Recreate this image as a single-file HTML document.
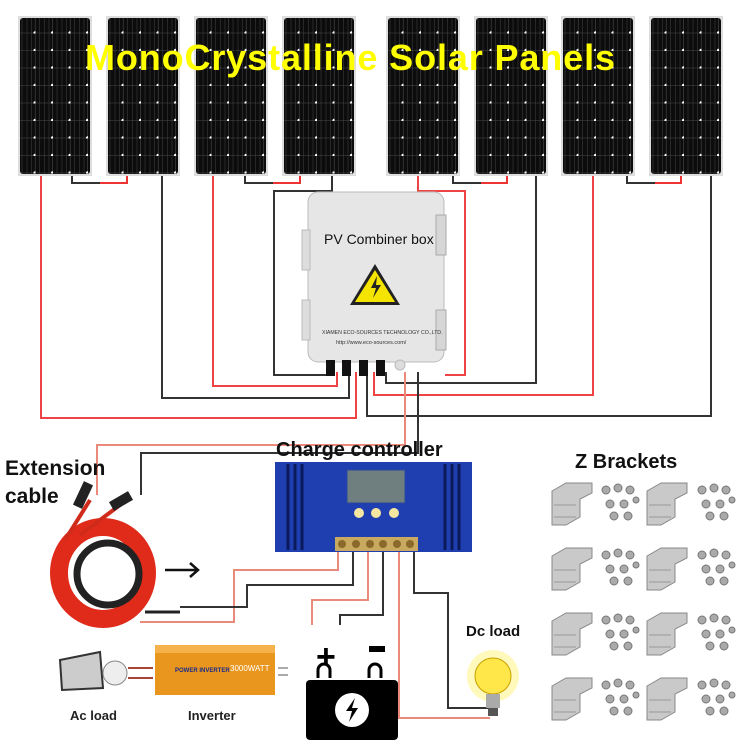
<!DOCTYPE html>
<html><head><style>
html,body{margin:0;padding:0;background:#fff;width:750px;height:750px;overflow:hidden}
svg{display:block}
text{font-family:"Liberation Sans",sans-serif}
</style></head><body>
<svg width="750" height="750" viewBox="0 0 750 750">
<defs>
<pattern id="cell" x="0" y="0" width="17.5" height="17.5" patternUnits="userSpaceOnUse">
<rect width="17.5" height="17.5" fill="#0c0c0c"/>
<line x1="4" y1="0" x2="4" y2="17.5" stroke="#3a3a3a" stroke-width="0.6"/>
<line x1="9" y1="0" x2="9" y2="17.5" stroke="#3a3a3a" stroke-width="0.6"/>
<line x1="13.5" y1="0" x2="13.5" y2="17.5" stroke="#3a3a3a" stroke-width="0.6"/>
<line x1="0" y1="17" x2="17.5" y2="17" stroke="#4a4a4a" stroke-width="0.6"/>
<line x1="17.2" y1="0" x2="17.2" y2="17.5" stroke="#4a4a4a" stroke-width="0.6"/>
<circle cx="17.2" cy="17" r="1.8" fill="#fff"/>
</pattern>
<g id="panel">
<rect x="0" y="0" width="74" height="160" fill="#ddd"/>
<rect x="2" y="2" width="70" height="156" rx="3" fill="url(#cell)"/>
</g>
<g id="brk">
<path d="M0,8 l14,-8 h26 v10 l-12,6 v18 l-14,8 h-14 z" fill="#c9c9c9" stroke="#888"/>
<path d="M2,22 h22 M2,34 h22" stroke="#999"/>
</g>
<g id="scr" fill="#aaa" stroke="#777">
<circle cx="8" cy="8" r="4"/><circle cx="20" cy="6" r="4"/><circle cx="32" cy="8" r="4"/>
<circle cx="12" cy="22" r="4"/><circle cx="26" cy="22" r="4"/><circle cx="38" cy="18" r="3"/>
<circle cx="16" cy="34" r="4"/><circle cx="30" cy="34" r="4"/>
</g>
</defs>

<use href="#panel" x="18" y="16"/><use href="#panel" x="106" y="16"/>
<use href="#panel" x="194" y="16"/><use href="#panel" x="282" y="16"/>
<use href="#panel" x="386" y="16"/><use href="#panel" x="474" y="16"/>
<use href="#panel" x="561" y="16"/><use href="#panel" x="649" y="16"/>

<text x="85" y="70" font-size="36" font-weight="bold" fill="#ffff00" textLength="530" lengthAdjust="spacing">MonoCrystalline  Solar  Panels</text>

<g fill="none" stroke-width="2">
<path d="M72,176 v7 h28" stroke="#333"/><path d="M100,183 h27 v-7" stroke="#e33"/>
<path d="M245,176 v7 h28" stroke="#333"/><path d="M273,183 h27 v-7" stroke="#e33"/>
<path d="M453,176 v7 h28" stroke="#333"/><path d="M481,183 h26 v-7" stroke="#e33"/>
<path d="M627,176 v7 h28" stroke="#333"/><path d="M655,183 h26 v-7" stroke="#e33"/>
</g>

<g fill="none" stroke-width="2">
<path d="M41,176 V418 H356 V372" stroke="#e44"/>
<path d="M162,176 V398 H349 V372" stroke="#333"/>
<path d="M213,176 V386 H337 V372" stroke="#e44"/>
<path d="M332,176 V191 H274 V375 H330" stroke="#333"/>
<path d="M418,176 V191 H465 V375 H445" stroke="#e44"/>
<path d="M536,176 V383 H386 V372" stroke="#333"/>
<path d="M593,176 V395 H374 V372" stroke="#e44"/>
<path d="M711,176 V416 H367 V372" stroke="#333"/>
<path d="M405,372 V445 H97 V495" stroke="#e98a7a"/>
<path d="M418,372 V453 H141 V495" stroke="#333"/>
</g>

<rect x="308" y="192" width="136" height="170" rx="10" fill="#e6e6e6" stroke="#bbb"/>
<rect x="302" y="230" width="8" height="40" fill="#ddd" stroke="#bbb"/>
<rect x="302" y="300" width="8" height="40" fill="#ddd" stroke="#bbb"/>
<rect x="436" y="215" width="10" height="40" fill="#d6d6d6" stroke="#aaa"/>
<rect x="436" y="310" width="10" height="40" fill="#d6d6d6" stroke="#aaa"/>
<text x="324" y="244" font-size="14" fill="#111">PV Combiner box</text>
<polygon points="375,264 350,305 400,305" fill="#222"/>
<polygon points="375,270 355,302 395,302" fill="#f5e400"/>
<path d="M377,276 l-6,12 h5 l-3,10 l8,-13 h-5 z" fill="#222"/>
<text x="322" y="334" font-size="5.2" fill="#333">XIAMEN ECO-SOURCES TECHNOLOGY CO.,LTD.</text>
<text x="336" y="344" font-size="5.5" fill="#333">http://www.eco-sources.com/</text>
<g fill="#111"><rect x="326" y="360" width="9" height="16"/><rect x="342" y="360" width="9" height="16"/><rect x="359" y="360" width="9" height="16"/><rect x="376" y="360" width="9" height="16"/></g>
<circle cx="400" cy="365" r="5" fill="#ddd" stroke="#bbb"/>

<text x="276" y="456" font-size="20" font-weight="bold" fill="#111">Charge controller</text>
<text x="5" y="475" font-size="21" font-weight="bold" fill="#111">Extension</text>
<text x="5" y="503" font-size="21" font-weight="bold" fill="#111">cable</text>
<text x="575" y="468" font-size="20" font-weight="bold" fill="#111">Z Brackets</text>

<rect x="275" y="462" width="197" height="90" fill="#1f3fb0"/>
<g stroke="#0a1a5a" stroke-width="3">
<path d="M288,464 v86 M295,464 v86 M302,464 v86 M445,464 v86 M452,464 v86 M459,464 v86"/>
</g>
<rect x="347" y="470" width="58" height="33" fill="#6f7f80" stroke="#2a4a9a"/>
<circle cx="359" cy="513" r="5" fill="#f5e6a0"/><circle cx="376" cy="513" r="5" fill="#f5e6a0"/><circle cx="394" cy="513" r="5" fill="#f5e6a0"/>
<rect x="335" y="537" width="83" height="14" fill="#c9a860"/>
<g fill="#8a6a2a"><circle cx="342" cy="544" r="4"/><circle cx="356" cy="544" r="4"/><circle cx="370" cy="544" r="4"/><circle cx="383" cy="544" r="4"/><circle cx="397" cy="544" r="4"/><circle cx="410" cy="544" r="4"/></g>

<g fill="none" stroke-width="2">
<path d="M338,552 V570 H234 V622 H140" stroke="#e98a7a"/>
<path d="M353,552 V585 H247 V607 H180" stroke="#333"/>
<path d="M368,552 V600 H312 V625" stroke="#e98a7a"/>
<path d="M383,552 V615 H340 V625" stroke="#333"/>
<path d="M399,552 V718 H490" stroke="#e98a7a"/>
<path d="M414,552 V593 H448 V708 H490" stroke="#333"/>
</g>

<ellipse cx="103" cy="573" rx="44" ry="46" fill="none" stroke="#e02a1a" stroke-width="18"/>
<ellipse cx="108" cy="574" rx="31" ry="31" fill="none" stroke="#222" stroke-width="7"/>
<path d="M65,540 L90,500 M80,535 L120,505" stroke="#d02a1a" stroke-width="4"/>
<rect x="78" y="482" width="10" height="26" fill="#222" transform="rotate(25 83 495)"/>
<rect x="116" y="490" width="10" height="22" fill="#222" transform="rotate(60 121 501)"/>
<path d="M145,612 H180" stroke="#222" stroke-width="3"/>
<path d="M165,570 h33 m-8,-7 l8,7 l-8,7" stroke="#111" stroke-width="2.5" fill="none"/>

<text x="316" y="668" font-size="34" font-weight="bold" fill="#000">+</text>
<rect x="369" y="646" width="16" height="6" fill="#000"/>
<path d="M318,678 v-8 a6,6 0 0 1 12,0 v8 M369,678 v-8 a6,6 0 0 1 12,0 v8" stroke="#000" stroke-width="3" fill="none"/>
<rect x="306" y="680" width="92" height="60" rx="4" fill="#000"/>
<circle cx="352" cy="710" r="17" fill="#fff"/>
<path d="M355,698 l-9,13 h6 l-3,11 l9,-14 h-6 z" fill="#000"/>

<text x="466" y="636" font-size="15" font-weight="bold" fill="#111">Dc load</text>
<circle cx="493" cy="676" r="26" fill="#fff6a0" opacity="0.7"/>
<circle cx="493" cy="676" r="18" fill="#ffe74a" stroke="#c9a000"/>
<rect x="486" y="694" width="14" height="14" fill="#aaa"/>
<rect x="488" y="708" width="10" height="8" fill="#555"/>

<path d="M60,660 L100,652 L103,688 L62,690 z" fill="#ccc" stroke="#333" stroke-width="2"/>
<circle cx="115" cy="673" r="12" fill="#eee" stroke="#888"/>
<path d="M128,668 H153 M128,678 H153" stroke="#aa4433" stroke-width="2"/>
<rect x="155" y="645" width="120" height="50" fill="#e8961e"/>
<rect x="155" y="645" width="120" height="8" fill="#f5b24a"/>
<text x="175" y="672" font-size="6" fill="#1a2a8a" font-weight="bold">POWER INVERTER</text>
<text x="230" y="671" font-size="8" fill="#fff">3000WATT</text>
<path d="M278,668 h10 M278,675 h10" stroke="#aaa" stroke-width="2"/>
<text x="70" y="720" font-size="13" font-weight="bold" fill="#222">Ac load</text>
<text x="188" y="720" font-size="13" font-weight="bold" fill="#222">Inverter</text>

<use href="#brk" x="552" y="483"/><use href="#scr" x="598" y="482"/>
<use href="#brk" x="647" y="483"/><use href="#scr" x="694" y="482"/>
<use href="#brk" x="552" y="548"/><use href="#scr" x="598" y="547"/>
<use href="#brk" x="647" y="548"/><use href="#scr" x="694" y="547"/>
<use href="#brk" x="552" y="613"/><use href="#scr" x="598" y="612"/>
<use href="#brk" x="647" y="613"/><use href="#scr" x="694" y="612"/>
<use href="#brk" x="552" y="678"/><use href="#scr" x="598" y="677"/>
<use href="#brk" x="647" y="678"/><use href="#scr" x="694" y="677"/>
</svg>
</body></html>
